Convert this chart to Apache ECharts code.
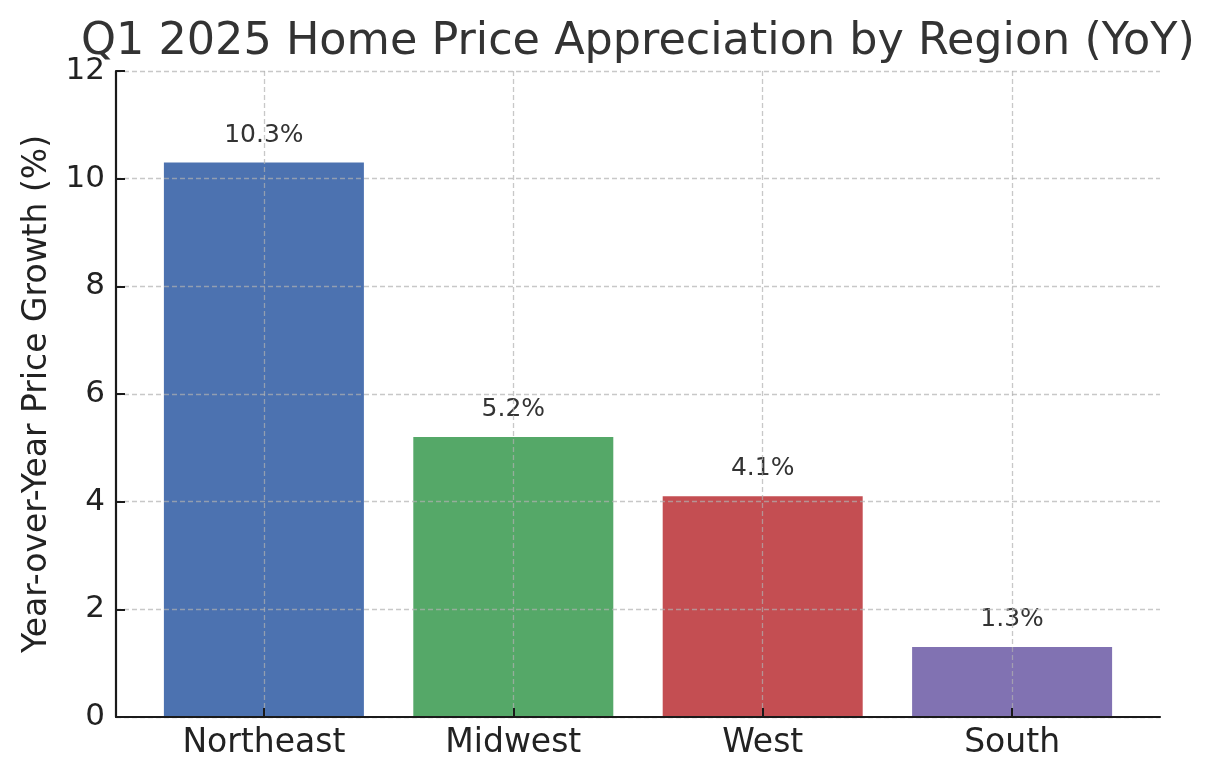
<!DOCTYPE html>
<html>
<head>
<meta charset="utf-8">
<script src="https://cdn.jsdelivr.net/npm/echarts@6/dist/echarts.min.js"></script>
<style>
  html, body { margin: 0; padding: 0; background: #fff; }
  #main { width: 1215px; height: 780px; }
</style>
</head>
<body>
<div id="main"></div>
<script>
// data
var regions = ['Northeast', 'Midwest', 'West', 'South'];
var growth = [10.3, 5.2, 4.1, 1.3];
var barColors = ['#4c72b0', '#55a868', '#c44e52', '#8172b2'];
var yTicks = [0, 2, 4, 6, 8, 10, 12];

var positions = regions.map(function (r, i) { return i; });

var myChart = echarts.init(document.getElementById('main'));

var font = 'DejaVu Sans';
var gridLine = {
  show: true,
  lineStyle: { color: 'rgba(176,176,176,0.7)', width: 1.3, type: [5, 3] }
};

option = {
  animation: false,
  textStyle: { fontFamily: font },
  title: {
    text: 'Q1 2025 Home Price Appreciation by Region (YoY)',
    left: 76,
    top: 15,
    textStyle: { color: '#333', fontSize: 44.5, fontWeight: 'normal', fontFamily: font }
  },
  grid: { left: 116, right: 55, top: 71, bottom: 63 },
  xAxis: {
    type: 'value',
    min: -0.593,
    max: 3.593,
    axisLine: { show: true, onZero: false, lineStyle: { color: '#1a1a1a', width: 2.2 } },
    axisTick: { show: true, inside: true, length: 9, customValues: positions, lineStyle: { color: '#1a1a1a', width: 2 } },
    axisLabel: {
      customValues: positions,
      color: '#222',
      fontSize: 33,
      margin: 10,
      fontFamily: font,
      formatter: function (v) { return regions[Math.round(v)]; }
    },
    splitLine: gridLine
  },
  yAxis: {
    type: 'value',
    min: 0,
    max: 12,
    interval: 2,
    name: 'Year-over-Year Price Growth (%)',
    nameLocation: 'middle',
    nameGap: 62,
    nameTextStyle: { color: '#222', fontSize: 33, fontFamily: font },
    axisLine: { show: true, onZero: false, lineStyle: { color: '#1a1a1a', width: 2.2 } },
    axisTick: { show: true, inside: true, length: 9, lineStyle: { color: '#1a1a1a', width: 2 } },
    axisLabel: {
      color: '#222',
      fontSize: 31,
      margin: 11,
      fontFamily: font,
      formatter: function (v) { return yTicks.indexOf(v) >= 0 ? String(v) : ''; }
    },
    splitLine: gridLine
  },
  series: [{
    type: 'bar',
    z: -1,
    barWidth: 200,
    data: growth.map(function (v, i) {
      return { value: [positions[i], v], itemStyle: { color: barColors[i] } };
    }),
    label: {
      show: true,
      position: 'top',
      distance: 15,
      color: '#333',
      fontSize: 25,
      fontFamily: font,
      formatter: function (p) { return p.value[1].toFixed(1) + '%'; }
    }
  }]
};

myChart.setOption(option);
</script>
</body>
</html>
